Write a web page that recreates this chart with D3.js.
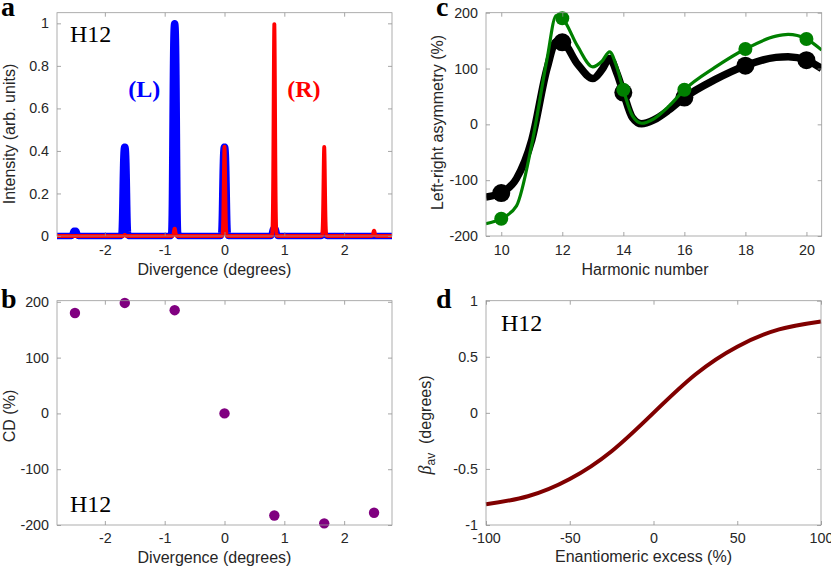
<!DOCTYPE html>
<html>
<head>
<meta charset="utf-8">
<script src="https://cdn.jsdelivr.net/npm/d3@7"></script>
<style>
body { margin: 0; background: #fff; }
</style>
</head>
<body>
<script>
// panel a / b : diffraction orders
var peakPos = [-2.5, -1.667, -0.833, 0, 0.833, 1.667, 2.5];
var intensityL = [0.025, 0.42, 1.0, 0.42, 0.035, 0.005, 0];
var intensityR = [0, 0.005, 0.035, 0.42, 1.0, 0.42, 0.025];
var cdValues = [180, 198, 185, 0, -183, -197, -178];

// panel c : asymmetry vs harmonic
var harmonics = [10, 12, 14, 16, 18, 20];
var asymBlack = [-123, 147, 57, 48, 105, 115];
var asymGreen = [-169, 190, 62, 62, 135, 153];
var curveH = [9.5, 10, 10.5, 11, 11.5, 11.8, 12, 12.5, 13, 13.3, 13.55, 13.8, 14, 14.3, 14.6, 15, 15.5, 16, 17, 18, 19, 19.4, 20, 20.5];
var curveBlack = [-130, -123, -97, -28, 100, 148, 147, 108, 82, 98, 118, 90, 57, 12, 1, 8, 26, 48, 80, 105, 120, 121, 115, 100];
var curveGreen = [-178, -169, -146, -36, 117, 195, 190, 140, 103, 113, 130, 100, 62, 15, 2, 10, 33, 62, 102, 135, 158, 161, 153, 133];

// panel d : average deflection vs enantiomeric excess
var excess = [-100, -75, -50, -25, 0, 25, 50, 75, 100];
var betaAv = [-0.815, -0.744, -0.59, -0.342, 0, 0.342, 0.59, 0.744, 0.815];

var xTicksDiv = [-2, -1, 0, 1, 2];
var yTicksA = [0, 0.2, 0.4, 0.6, 0.8, 1];
var yTicksB = [-200, -100, 0, 100, 200];
var xTicksC = [10, 12, 14, 16, 18, 20];
var yTicksC = [-200, -100, 0, 100, 200];
var xTicksD = [-100, -50, 0, 50, 100];
var yTicksD = [-1, -0.5, 0, 0.5, 1];

var width = 831, height = 568;
var sans = "'Liberation Sans', Arial, sans-serif";
var serif = "'Liberation Serif', 'Times New Roman', serif";

var svg = d3.select("body").append("svg")
  .attr("width", width)
  .attr("height", height);

var boxA = {l: 57, r: 392, t: 12.7, b: 236};
var boxB = {l: 57, r: 392, t: 300.7, b: 525};
var boxC = {l: 486, r: 821.7, t: 12.7, b: 236};
var boxD = {l: 486, r: 821, t: 300.7, b: 525};

var xA = d3.scaleLinear().domain([-2.8, 2.8]).range([boxA.l, boxA.r]);
var yA = d3.scaleLinear().domain([0, 1.05]).range([boxA.b, boxA.t]);
var xB = d3.scaleLinear().domain([-2.8, 2.8]).range([boxB.l, boxB.r]);
var yB = d3.scaleLinear().domain([-200, 202]).range([boxB.b, boxB.t]);
var xC = d3.scaleLinear().domain([9.5, 20.5]).range([boxC.l, boxC.r]);
var yC = d3.scaleLinear().domain([-200, 200]).range([boxC.b, boxC.t]);
var xD = d3.scaleLinear().domain([-100, 100]).range([boxD.l, boxD.r]);
var yD = d3.scaleLinear().domain([-1, 1]).range([boxD.b, boxD.t]);

function fmt(d) { return String(d); }

// clip horizontally only, lines may spill over the x axis like in matlab
function addClip(id, box) {
  svg.append("clipPath").attr("id", id)
    .append("rect")
    .attr("x", box.l).attr("y", box.t - 20)
    .attr("width", box.r - box.l).attr("height", box.b - box.t + 40);
}
addClip("clipA", boxA);
addClip("clipC", boxC);

function drawAxes(box, x, y, xticks, yticks, xpad) {
  var g = svg.append("g");
  var axes = [
    [d3.axisBottom(x).tickValues(xticks).tickFormat(fmt).tickPadding(xpad), "translate(0," + box.b + ")"],
    [d3.axisTop(x).tickValues(xticks).tickFormat(""), "translate(0," + box.t + ")"],
    [d3.axisLeft(y).tickValues(yticks).tickFormat(fmt).tickPadding(8), "translate(" + box.l + ",0)"],
    [d3.axisRight(y).tickValues(yticks).tickFormat(""), "translate(" + box.r + ",0)"]
  ];
  axes.forEach(function(a) {
    var ax = g.append("g")
      .attr("transform", a[1])
      .call(a[0].tickSize(-4).tickSizeOuter(0));
    ax.attr("font-size", 14.3).attr("font-family", sans).attr("color", "#262626");
    ax.select(".domain").remove();
    ax.selectAll(".tick line").attr("stroke", "#8f8f8f").attr("stroke-width", 0.8);
  });
  g.append("rect")
    .attr("x", box.l).attr("y", box.t)
    .attr("width", box.r - box.l).attr("height", box.b - box.t)
    .attr("fill", "none")
    .attr("stroke", "#999")
    .attr("stroke-width", 0.8);
}

function xLabel(txt, cx, base) {
  svg.append("text").attr("x", cx).attr("y", base)
    .attr("text-anchor", "middle")
    .attr("font-family", sans).attr("font-size", 16)
    .attr("fill", "#262626")
    .text(txt);
}

function yLabel(txt, bx, cy) {
  return svg.append("text")
    .attr("transform", "translate(" + bx + "," + cy + ") rotate(-90)")
    .attr("text-anchor", "middle")
    .attr("font-family", sans).attr("font-size", 16)
    .attr("fill", "#262626")
    .text(txt);
}

function panelLetter(txt, x, y) {
  svg.append("text").attr("x", x).attr("y", y)
    .attr("font-family", serif).attr("font-size", 28).attr("font-weight", "bold")
    .text(txt);
}

function tag(txt, x, y, color, bold) {
  svg.append("text").attr("x", x).attr("y", y)
    .attr("font-family", serif).attr("font-size", 24)
    .attr("font-weight", bold ? "bold" : "normal")
    .attr("fill", color)
    .text(txt);
}

// ---- panel a ----
var xs = d3.range(-2.8, 2.8001, 0.002);
function spectrum(heights, shape) {
  return xs.map(function(x) {
    var s = 0;
    peakPos.forEach(function(c, i) { s += heights[i] * shape(x - c); });
    return {x: x, y: s};
  });
}
var specL = spectrum(intensityL, function(dx) { return Math.exp(-Math.pow(dx / 0.04, 4)); });
var specR = spectrum(intensityR, function(dx) { return Math.exp(-0.5 * Math.pow(dx / 0.012, 2)); });

var lineA = d3.line().x(function(d) { return xA(d.x); }).y(function(d) { return yA(d.y); });
var gA = svg.append("g").attr("clip-path", "url(#clipA)");
gA.append("path").attr("d", lineA(specL))
  .attr("fill", "none").attr("stroke", "#0000ff").attr("stroke-width", 6.5)
  .attr("stroke-linejoin", "round").attr("stroke-linecap", "round");
gA.append("path").attr("d", lineA(specR))
  .attr("fill", "none").attr("stroke", "#ff0000").attr("stroke-width", 3.8)
  .attr("stroke-linejoin", "round").attr("stroke-linecap", "round");
drawAxes(boxA, xA, yA, xTicksDiv, yTicksA, 9);
xLabel("Divergence (degrees)", 214.5, 274.5);
yLabel("Intensity (arb. units)", 15, 134);
tag("H12", 70, 41.7, "#000", false);
tag("(L)", 128.3, 96.7, "#0000ff", true);
tag("(R)", 287.3, 96.7, "#ff0000", true);
panelLetter("a", 1, 16);

// ---- panel b ----
svg.append("g").selectAll("circle")
  .data(peakPos)
  .enter().append("circle")
  .attr("cx", function(d) { return xB(d); })
  .attr("cy", function(d, i) { return yB(cdValues[i]); })
  .attr("r", 5.2)
  .attr("fill", "#800080");
drawAxes(boxB, xB, yB, xTicksDiv, yTicksB, 8);
xLabel("Divergence (degrees)", 214.5, 563);
yLabel("CD (%)", 15, 416);
tag("H12", 70, 512.3, "#000", false);
panelLetter("b", 1, 308);

// ---- panel c ----
var lineC = d3.line().curve(d3.curveMonotoneX)
  .x(function(d) { return xC(d[0]); }).y(function(d) { return yC(d[1]); });
var gC = svg.append("g").attr("clip-path", "url(#clipC)");
gC.append("path").attr("d", lineC(d3.zip(curveH, curveBlack)))
  .attr("fill", "none").attr("stroke", "#000").attr("stroke-width", 7.5)
  .attr("stroke-linejoin", "round");
gC.selectAll("circle.blk").data(harmonics).enter().append("circle")
  .attr("class", "blk")
  .attr("cx", function(d) { return xC(d); })
  .attr("cy", function(d, i) { return yC(asymBlack[i]); })
  .attr("r", 9).attr("fill", "#000");
gC.append("path").attr("d", lineC(d3.zip(curveH, curveGreen)))
  .attr("fill", "none").attr("stroke", "#008000").attr("stroke-width", 3.2)
  .attr("stroke-linejoin", "round");
gC.selectAll("circle.grn").data(harmonics).enter().append("circle")
  .attr("class", "grn")
  .attr("cx", function(d) { return xC(d); })
  .attr("cy", function(d, i) { return yC(asymGreen[i]); })
  .attr("r", 7).attr("fill", "#008000");
drawAxes(boxC, xC, yC, xTicksC, yTicksC, 9);
xLabel("Harmonic number", 645, 275);
yLabel("Left-right asymmetry (%)", 443, 122.5);
panelLetter("c", 436, 16);

// ---- panel d ----
var lineD = d3.line().curve(d3.curveNatural)
  .x(function(d) { return xD(d[0]); }).y(function(d) { return yD(d[1]); });
svg.append("path").attr("d", lineD(d3.zip(excess, betaAv)))
  .attr("fill", "none").attr("stroke", "#800000").attr("stroke-width", 4);
drawAxes(boxD, xD, yD, xTicksD, yTicksD, 8);
xLabel("Enantiomeric excess (%)", 643.5, 562);
var bl = yLabel("", 431, 425);
bl.append("tspan").attr("font-family", serif).attr("font-style", "italic").attr("font-size", 18).text("\u03b2");
bl.append("tspan").attr("font-size", 12).attr("dy", 4).text("av");
bl.append("tspan").attr("dy", -4).text("\u00a0\u00a0(degrees)");
tag("H12", 501, 330.7, "#000", false);
panelLetter("d", 436, 308);
</script>
</body>
</html>
